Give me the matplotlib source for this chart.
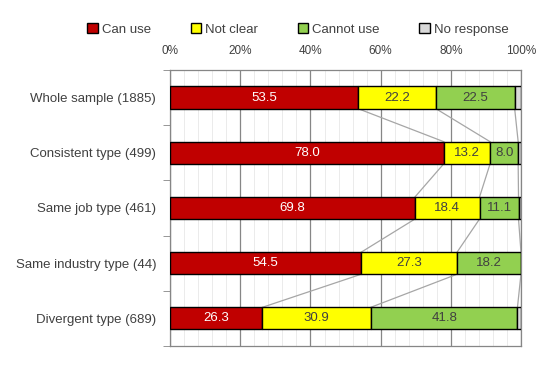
import matplotlib.pyplot as plt
import numpy as np
from matplotlib.ticker import MultipleLocator, PercentFormatter

plt.rcParams['font.family'] = ['Liberation Sans', 'DejaVu Sans']

# data
groups = ['Whole sample (1885)', 'Consistent type (499)', 'Same job type (461)',
          'Same industry type (44)', 'Divergent type (689)']
can_use = [53.5, 78.0, 69.8, 54.5, 26.3]
not_clear = [22.2, 13.2, 18.4, 27.3, 30.9]
cannot_use = [22.5, 8.0, 11.1, 18.2, 41.8]
no_response = [1.8, 0.8, 0.7, 0.0, 1.0]

series = [('Can use', can_use, '#c00000', 'white'),
          ('Not clear', not_clear, '#ffff00', '#404040'),
          ('Cannot use', cannot_use, '#92d050', '#404040'),
          ('No response', no_response, '#d9d9d9', '#404040')]

fig = plt.figure(figsize=(5.56, 3.70), dpi=100)
ax = fig.add_axes([0.306, 0.065, 0.631, 0.746])

y = np.arange(len(groups))
bar_h = 0.4
left = np.zeros(len(groups))
handles = []
for name, vals, color, tcol in series:
    vals = np.array(vals)
    b = ax.barh(y, vals, left=left, height=bar_h, color=color,
                edgecolor='black', linewidth=1.0, label=name, zorder=3)
    handles.append(b)
    if name != 'No response':
        for yi, l, v in zip(y, left, vals):
            ax.text(l + v / 2, yi, f'{v:.1f}', ha='center', va='center',
                    color=tcol, fontsize=9.5, zorder=4)
    left = left + vals
    # series lines between consecutive bars
    if name != 'No response':
        for i in range(len(groups) - 1):
            ax.plot([left[i], left[i + 1]], [y[i] + bar_h / 2, y[i + 1] - bar_h / 2],
                    color='#a6a6a6', linewidth=0.9, zorder=2)

ax.set_xlim(0, 100)
ax.set_ylim(4.5, -0.5)
ax.xaxis.tick_top()
ax.xaxis.set_major_locator(MultipleLocator(20))
ax.xaxis.set_minor_locator(MultipleLocator(4))
ax.xaxis.set_major_formatter(PercentFormatter(decimals=0))
ax.tick_params(axis='x', which='both', length=0, pad=9, labelsize=8.5, labelcolor='#404040')
ax.grid(axis='x', which='major', color='#868686', linewidth=0.9, zorder=0)
ax.grid(axis='x', which='minor', color='#ebebeb', linewidth=0.7, zorder=0)

ax.set_yticks(y)
ax.set_yticklabels(groups, fontsize=9.5, color='#404040')
ax.set_yticks(np.arange(-0.5, 4.6, 1), minor=True)
ax.tick_params(axis='y', which='major', length=0, pad=10)
ax.tick_params(axis='y', which='minor', length=5, color='#868686', direction='out')

for s in ax.spines.values():
    s.set_color('#868686')
    s.set_linewidth(0.9)

fig.legend(handles=handles, loc='center', bbox_to_anchor=(0.536, 0.92), ncol=4,
           frameon=False, fontsize=9.5, handlelength=0.8, handleheight=0.8,
           handletextpad=0.3, columnspacing=3.0, labelcolor='#404040')

fig.savefig('out.png', dpi=100)
